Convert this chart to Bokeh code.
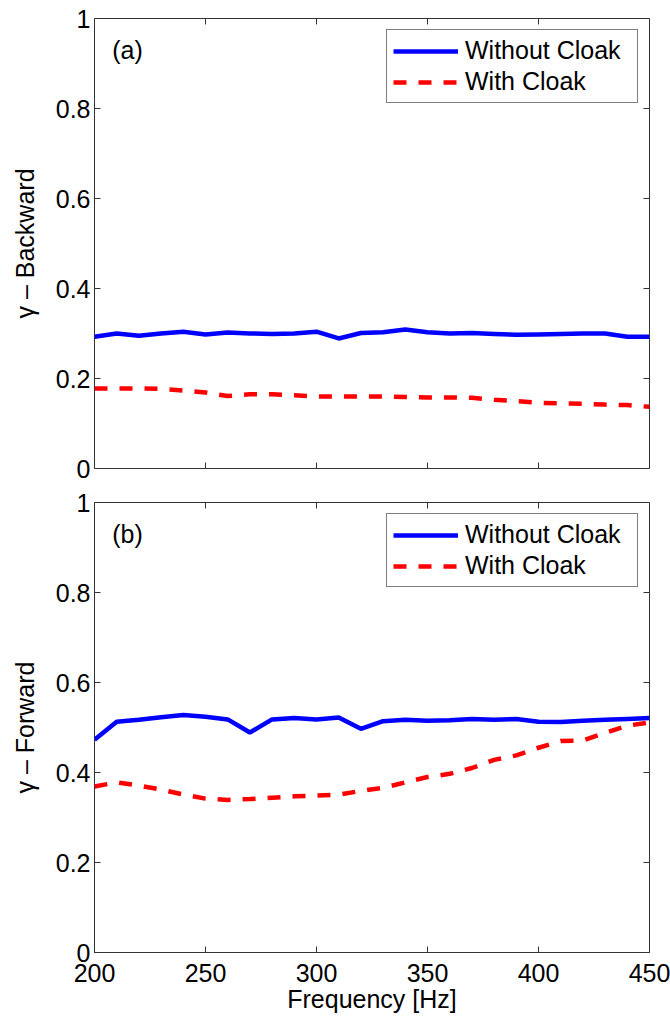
import math
from bokeh.plotting import figure
from bokeh.models import Range1d, FixedTicker, Label
from bokeh.layouts import column
from bokeh.embed import file_html
from bokeh.resources import INLINE

freq = [200, 210, 220, 230, 240, 250, 260, 270, 280, 290, 300, 310, 320,
        330, 340, 350, 360, 370, 380, 390, 400, 410, 420, 430, 440, 450]

back_without = [0.293, 0.300, 0.295, 0.300, 0.304, 0.298, 0.302, 0.300, 0.299, 0.300, 0.304, 0.289, 0.301,
                0.303, 0.309, 0.303, 0.300, 0.301, 0.299, 0.297, 0.298, 0.299, 0.300, 0.300, 0.293, 0.293]
back_with = [0.178, 0.178, 0.178, 0.177, 0.173, 0.169, 0.161, 0.165, 0.165, 0.163, 0.160, 0.160, 0.160,
             0.160, 0.159, 0.158, 0.158, 0.157, 0.153, 0.150, 0.146, 0.145, 0.144, 0.142, 0.141, 0.137]

fwd_without = [0.473, 0.513, 0.517, 0.523, 0.528, 0.524, 0.518, 0.489, 0.518, 0.521, 0.518, 0.522, 0.497,
               0.514, 0.517, 0.515, 0.516, 0.519, 0.517, 0.519, 0.513, 0.512, 0.515, 0.517, 0.519, 0.521]
fwd_with = [0.369, 0.378, 0.371, 0.362, 0.351, 0.342, 0.339, 0.341, 0.344, 0.347, 0.349, 0.351, 0.359,
            0.366, 0.378, 0.390, 0.397, 0.410, 0.428, 0.438, 0.455, 0.470, 0.471, 0.488, 0.504, 0.511]

xticks = [200, 250, 300, 350, 400, 450]
yticks = [0, 0.2, 0.4, 0.6, 0.8, 1]
ytick_labels = {0: "0", 0.2: "0.2", 0.4: "0.4", 0.6: "0.6", 0.8: "0.8", 1: "1"}
XMIN, XMAX, YMIN, YMAX = 200, 450, 0, 1

FONT = "Liberation Sans"
FS = "25px"
TICK_COLOR = "#333333"
LW = 4.5


def style_axis(ax):
    ax.axis_line_color = None
    ax.major_tick_in = 6
    ax.major_tick_out = 0
    ax.minor_tick_line_color = None
    ax.major_tick_line_color = TICK_COLOR
    ax.major_label_text_font = FONT
    ax.major_label_text_font_size = FS
    ax.major_label_text_color = "black"
    ax.axis_label_text_font = FONT
    ax.axis_label_text_font_size = FS
    ax.axis_label_text_font_style = "normal"
    ax.axis_label_text_color = "black"


def make_panel(ylabel, tag, y_without, y_with, show_x, height, top, bottom):
    p = figure(width=670, height=height, output_backend="svg", toolbar_location=None,
               x_range=Range1d(XMIN, XMAX), y_range=Range1d(YMIN, YMAX),
               min_border_left=94, min_border_right=21,
               min_border_top=top, min_border_bottom=bottom)
    p.grid.visible = False
    p.outline_line_color = TICK_COLOR
    p.outline_line_width = 1
    p.line(freq, y_without, line_color="#0000ff", line_width=LW, legend_label="Without Cloak")
    p.line(freq, y_with, line_color="#ff0000", line_width=LW, line_dash="13 12",
           legend_label="With Cloak")

    # inward tick marks on the box sides without labels (clipped to the frame)
    p.scatter(x=xticks, y=[YMAX] * len(xticks), marker="dash", size=12, angle=math.pi / 2,
              line_color=TICK_COLOR, line_width=1)
    p.scatter(x=[XMAX] * len(yticks), y=yticks, marker="dash", size=12,
              line_color=TICK_COLOR, line_width=1)

    xa = p.xaxis[0]
    ya = p.yaxis[0]
    xa.ticker = FixedTicker(ticks=xticks)
    ya.ticker = FixedTicker(ticks=yticks)
    ya.major_label_overrides = ytick_labels
    style_axis(xa)
    style_axis(ya)
    ya.major_label_standoff = 4
    ya.axis_label = ylabel
    ya.axis_label_standoff = 14
    if show_x:
        xa.axis_label = "Frequency [Hz]"
        xa.major_label_standoff = 11
        xa.axis_label_standoff = 0
    else:
        xa.visible = False
        p.scatter(x=xticks, y=[YMIN] * len(xticks), marker="dash", size=12, angle=math.pi / 2,
                  line_color=TICK_COLOR, line_width=1)

    lg = p.legend[0]
    lg.location = "top_right"
    lg.margin = 11
    lg.padding = 6
    lg.spacing = 2
    lg.glyph_width = 65
    lg.glyph_height = 20
    lg.label_height = 20
    lg.label_width = 166
    lg.label_standoff = 7
    lg.label_text_font = FONT
    lg.label_text_font_size = FS
    lg.label_text_color = "black"
    lg.border_line_color = "black"
    lg.border_line_width = 1
    lg.background_fill_alpha = 1

    p.add_layout(Label(x=208, y=0.93, text=tag, text_font=FONT, text_font_size=FS,
                       text_baseline="middle", text_color="black"))
    return p


p1 = make_panel("\u03b3 \u2013 Backward", "(a)", back_without, back_with, False, 485, 18, 17)
p2 = make_panel("\u03b3 \u2013 Forward", "(b)", fwd_without, fwd_with, True, 532, 17, 65)

layout = column(p1, p2, spacing=0)
open("out.html", "w").write(file_html(layout, INLINE))
